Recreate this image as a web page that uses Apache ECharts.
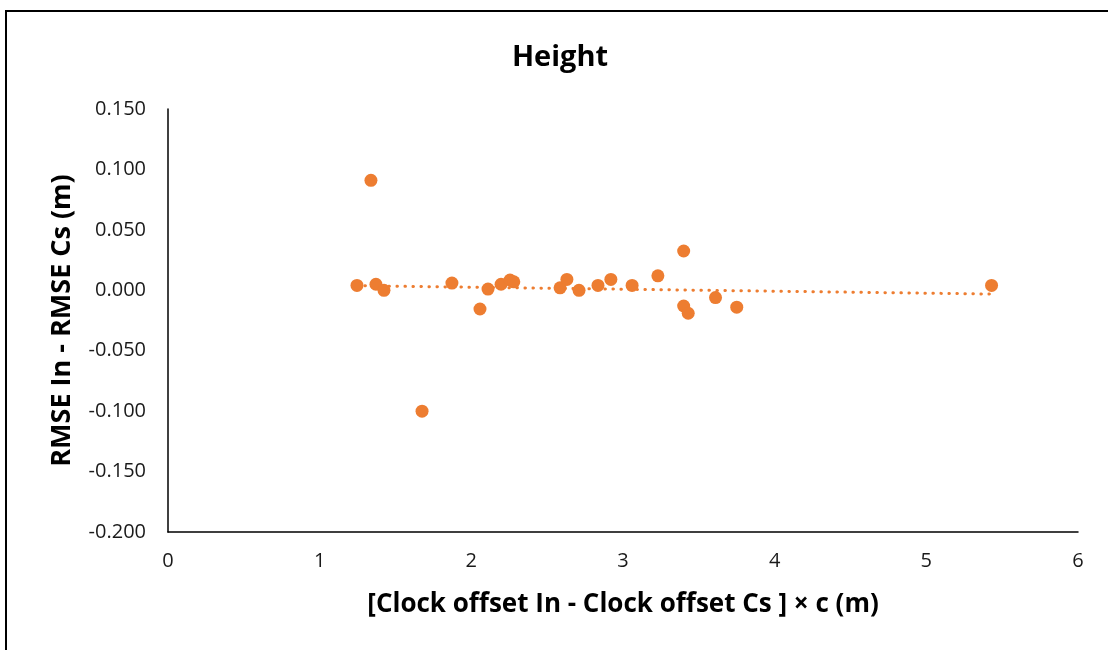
<!DOCTYPE html>
<html>
<head>
<meta charset="utf-8">
<script src="https://cdn.jsdelivr.net/npm/echarts@6/dist/echarts.min.js"></script>
<style>
html,body{margin:0;padding:0;background:#fff;}
#chart{width:1108px;height:650px;}
</style>
</head>
<body>
<div id="chart"></div>
<script>
const titleText = 'Height';
const xAxisTitle = '[Clock offset In - Clock offset Cs ] × c (m)';
const yAxisTitle = 'RMSE In - RMSE Cs (m)';
const xValues = [1.246, 1.338, 1.371, 1.424, 1.675, 1.872, 2.057, 2.110, 2.196, 2.255, 2.280, 2.585, 2.630, 2.710, 2.835, 2.920, 3.060, 3.230, 3.400, 3.400, 3.430, 3.610, 3.750, 5.430];
const yValues = [0.004, 0.091, 0.005, 0.000, -0.100, 0.006, -0.0155, 0.001, 0.005, 0.0085, 0.007, 0.002, 0.009, 0.000, 0.004, 0.009, 0.004, 0.012, 0.0325, -0.013, -0.019, -0.006, -0.014, 0.004];
const xTicks = {min: 0, max: 6, interval: 1};
const yTicks = {min: -0.2, max: 0.15, interval: 0.05};

const points = xValues.map((x, i) => [x, yValues[i]]);
// linear trendline (least squares) computed from the data
const n = xValues.length;
const mx = xValues.reduce((a, b) => a + b, 0) / n;
const my = yValues.reduce((a, b) => a + b, 0) / n;
let sxy = 0, sxx = 0;
for (let i = 0; i < n; i++) { sxy += (xValues[i] - mx) * (yValues[i] - my); sxx += (xValues[i] - mx) ** 2; }
const slope = sxy / sxx;
const intercept = my - slope * mx;
const xMin = Math.min(...xValues), xMax = Math.max(...xValues);
const trend = [[xMin, intercept + slope * xMin], [xMax, intercept + slope * xMax]];

const FONT = '"Open Sans", "Noto Sans", sans-serif';
const chart = echarts.init(document.getElementById('chart'), null, {renderer: 'canvas'});
chart.setOption({
  backgroundColor: '#fff',
  animation: false,
  title: {
    text: titleText, left: 555, textAlign: 'center', top: 38,
    textStyle: {fontFamily: FONT, fontWeight: 'bold', fontSize: 29, color: '#000'}
  },
  graphic: [{
    type: 'rect', silent: true, z: 100,
    shape: {x: 6, y: 11, width: 1200, height: 800},
    style: {fill: 'none', stroke: '#000', lineWidth: 2}
  }],
  grid: {left: 168, right: 30, top: 109, bottom: 118, containLabel: false},
  xAxis: {
    type: 'value', min: xTicks.min, max: xTicks.max, interval: xTicks.interval,
    name: xAxisTitle, nameLocation: 'middle', nameGap: 60,
    nameTextStyle: {fontFamily: FONT, fontWeight: 'bold', fontSize: 26, color: '#000'},
    axisLine: {show: true, onZero: false, lineStyle: {color: '#000', width: 1.5}},
    axisTick: {show: false},
    splitLine: {show: false},
    axisLabel: {fontFamily: FONT, fontSize: 20, color: '#1a1a1a', margin: 19}
  },
  yAxis: {
    type: 'value', min: yTicks.min, max: yTicks.max, interval: yTicks.interval,
    name: yAxisTitle, nameLocation: 'middle', nameGap: 92, nameRotate: 90,
    nameTextStyle: {fontFamily: FONT, fontWeight: 'bold', fontSize: 27, color: '#000'},
    axisLine: {show: true, onZero: false, lineStyle: {color: '#000', width: 1.5}},
    axisTick: {show: false},
    splitLine: {show: false},
    axisLabel: {fontFamily: FONT, fontSize: 20, color: '#1a1a1a', margin: 22,
      formatter: v => v.toFixed(3)}
  },
  series: [
    {
      type: 'line', data: trend, symbol: 'none', z: 1, silent: true,
      lineStyle: {color: '#ED7D31', width: 3, type: [0.5, 7.5], cap: 'round'}
    },
    {
      type: 'scatter', data: points, symbol: 'circle', symbolSize: 13, z: 2,
      itemStyle: {color: '#ED7D31', opacity: 1}
    }
  ]
});
</script>
</body>
</html>
